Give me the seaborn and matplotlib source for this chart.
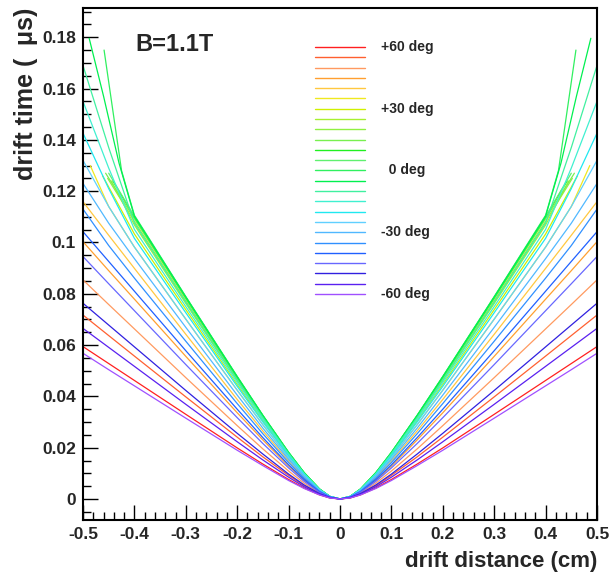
import matplotlib
matplotlib.use("Agg")
import matplotlib.pyplot as plt
from matplotlib.ticker import MultipleLocator, FuncFormatter
import numpy as np
import pandas as pd
import seaborn as sns

nan = float("nan")

# track angles (deg), top of the legend first
angles = [60, 55, 50, 45, 40, 35, 30, 25, 20, 15, 10, 5, 0,
          -5, -10, -15, -20, -25, -30, -35, -40, -45, -50, -55, -60]
angle_colors = ["#ff2020", "#ff6030", "#ff9a60", "#ffa030", "#ffc840",
                "#f0e820", "#d0f000", "#a8f030", "#90f040", "#78f050",
                "#20f020", "#60f070", "#30f060", "#00f050", "#40f0a0",
                "#40f0d0", "#20e8f0", "#60d0ff", "#50b8ff", "#3090ff",
                "#2060ff", "#6868ff", "#3020e0", "#5a20f0", "#a050ff"]

# drift distance knots (cm), curves are symmetric around the wire
dist_knots = [0, 0.02, 0.04, 0.07, 0.1, 0.15, 0.2, 0.3, 0.4, 0.45, 0.5]

# drift time (us) read at the knots, nan = curve already ended
drift_time = [
    [0, .0004, .0016, .0043, .0076, .0136, .0199, .0330, .0462, .0528, .0594],
    [0, .0005, .0020, .0052, .0092, .0164, .0241, .0398, .0557, .0637, .0717],
    [0, .0006, .0023, .0062, .0109, .0195, .0286, .0473, .0663, .0758, .0854],
    [0, .0007, .0027, .0073, .0128, .0230, .0336, .0556, .0779, .0890, .1003],
    [0, .0008, .0032, .0084, .0148, .0265, .0388, .0642, .0899, .1028, .1159],
    [0, .0009, .0035, .0092, .0161, .0289, .0424, .0701, .0982, .1140, nan],
    [0, .0010, .0036, .0097, .0170, .0305, .0446, .0738, .1033, nan, nan],
    [0, .0010, .0038, .0100, .0176, .0315, .0461, .0762, .1068, nan, nan],
    [0, .0010, .0038, .0101, .0178, .0319, .0467, .0772, .1082, nan, nan],
    [0, .0010, .0038, .0102, .0179, .0322, .0472, .0780, .1092, nan, nan],
    [0, .0010, .0039, .0103, .0181, .0324, .0475, .0785, .1099, nan, nan],
    [0, .0010, .0039, .0103, .0181, .0325, .0476, .0787, .1102, nan, nan],
    [0, .0010, .0039, .0103, .0182, .0326, .0478, .0789, .1106, nan, nan],
    [0, .0010, .0039, .0103, .0181, .0325, .0476, .0787, .1102, nan, nan],
    [0, .0010, .0038, .0100, .0177, .0317, .0464, .0767, .1075, .1370, .1690],
    [0, .0010, .0037, .0098, .0173, .0310, .0454, .0750, .1051, .1290, .1550],
    [0, .0010, .0036, .0095, .0167, .0300, .0439, .0726, .1016, .1210, .1426],
    [0, .0009, .0035, .0092, .0161, .0289, .0424, .0701, .0982, .1140, .1320],
    [0, .0009, .0033, .0088, .0154, .0276, .0405, .0669, .0937, .1075, .1230],
    [0, .0008, .0030, .0081, .0142, .0254, .0372, .0615, .0861, .0988, .1130],
    [0, .0008, .0028, .0076, .0133, .0239, .0350, .0578, .0810, .0926, .1042],
    [0, .0007, .0026, .0069, .0121, .0216, .0317, .0524, .0734, .0839, .0945],
    [0, .0006, .0021, .0055, .0097, .0175, .0256, .0423, .0593, .0678, .0763],
    [0, .0005, .0018, .0048, .0085, .0152, .0223, .0369, .0517, .0591, .0665],
    [0, .0004, .0016, .0041, .0072, .0130, .0190, .0315, .0441, .0504, .0568],
]

# last points of curves that stop (or jump up) near the cell edge
tail_dist = [[], [], [], [], [], [0.486], [0.462], [0.445], [0.452], [0.456],
             [0.442], [0.450], [0.425, 0.459], [0.43, 0.46, 0.488],
             [], [], [], [], [], [], [], [], [], [], []]
tail_time = [[], [], [], [], [], [0.130], [0.126], [0.124], [0.125], [0.127],
             [0.124], [0.127], [0.128, 0.175], [0.131, 0.157, 0.1796],
             [], [], [], [], [], [], [], [], [], [], []]

legend_text = {60: "+60 deg", 30: "+30 deg", 0: "  0 deg", -30: "-30 deg", -60: "-60 deg"}


def build_frame():
    rows = []
    for i, ang in enumerate(angles):
        rx = [d for d, t in zip(dist_knots, drift_time[i]) if not np.isnan(t)]
        rt = [t for t in drift_time[i] if not np.isnan(t)]
        rx += tail_dist[i]
        rt += tail_time[i]
        # mirror the right half onto negative distances
        xs = [-d for d in rx[::-1]] + rx[1:]
        ts = rt[::-1] + rt[1:]
        for k, (x, t) in enumerate(zip(xs, ts)):
            rows.append({"angle": ang, "order": k, "dist": x, "time": t})
    return pd.DataFrame(rows)


df = build_frame()

sns.set_style("ticks")
plt.rcParams["font.family"] = ["Liberation Sans", "DejaVu Sans"]

fig = plt.figure(figsize=(6.09, 5.76), dpi=100)
ax = fig.add_axes([0.1363, 0.0972, 0.844, 0.8889])

palette = dict(zip(angles, angle_colors))
sns.lineplot(data=df, x="dist", y="time", hue="angle", units="angle",
             estimator=None, sort=False, palette=palette, hue_order=angles,
             legend=False, linewidth=0.9, ax=ax)

ax.set_xlim(-0.5, 0.5)
ax.set_ylim(-0.0082, 0.1914)

ax.xaxis.set_major_locator(MultipleLocator(0.1))
ax.xaxis.set_minor_locator(MultipleLocator(0.02))
ax.yaxis.set_major_locator(MultipleLocator(0.02))
ax.yaxis.set_minor_locator(MultipleLocator(0.005))
fmt = FuncFormatter(lambda v, p: "%g" % round(v, 6))
ax.xaxis.set_major_formatter(fmt)
ax.yaxis.set_major_formatter(fmt)

ax.tick_params(which="both", direction="in", top=False, right=False,
               width=1.0, color="black")
ax.tick_params(which="major", length=11, labelsize=12.5, pad=5)
ax.tick_params(which="minor", length=5.5)
for lab in ax.get_xticklabels() + ax.get_yticklabels():
    lab.set_fontweight("bold")
for sp in ax.spines.values():
    sp.set_linewidth(1.5)
    sp.set_color("black")

ax.set_xlabel("drift distance (cm)", fontsize=16, fontweight="bold", loc="right")
ax.set_ylabel("drift time (\u2002\u03bcs)", fontsize=18, fontweight="bold", loc="top")
ax.xaxis.set_label_coords(1.0, -0.06)
ax.yaxis.set_label_coords(-0.088, 1.0)

ax.text(0.101, 0.928, "B=1.1T", transform=ax.transAxes, fontsize=17,
        fontweight="bold", va="center", ha="left")

# hand-made legend column, like the original
leg_top, leg_step = 0.924, 0.02011
for i, (ang, col) in enumerate(zip(angles, angle_colors)):
    y = leg_top - i * leg_step
    ax.plot([0.451, 0.549], [y, y], color=col, lw=1.0, transform=ax.transAxes)
    if ang in legend_text:
        ax.text(0.580, y, legend_text[ang], transform=ax.transAxes,
                fontsize=10, fontweight="bold", va="center", ha="left")

fig.savefig("out.png", dpi=100)
